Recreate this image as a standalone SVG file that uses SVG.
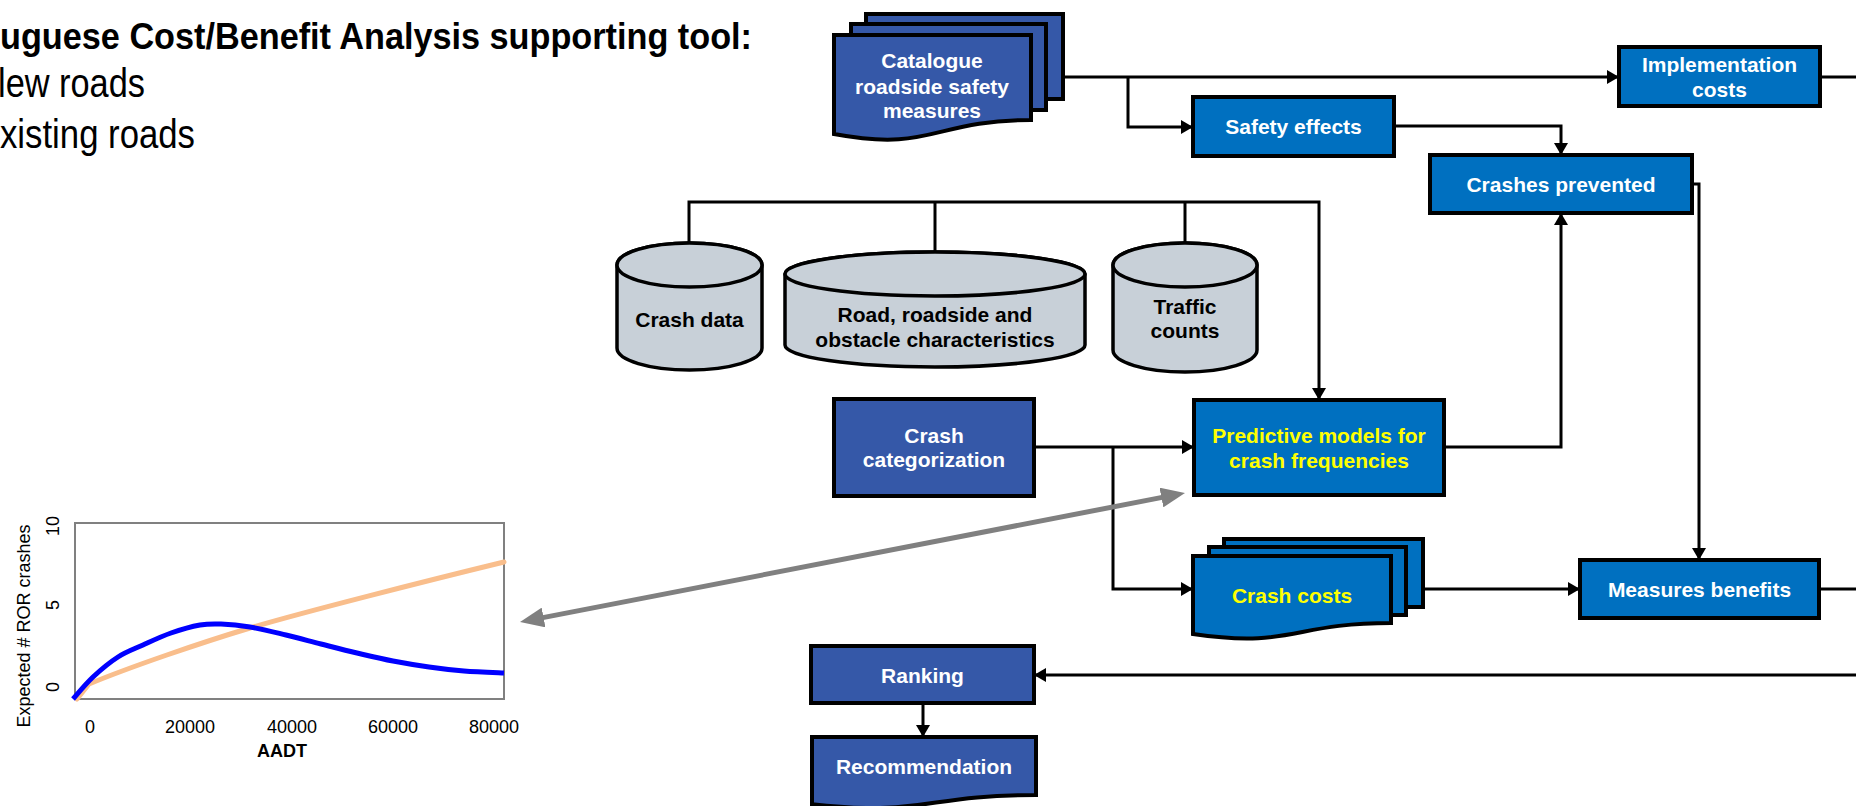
<svg xmlns="http://www.w3.org/2000/svg" width="1856" height="806" viewBox="0 0 1856 806">
<style>
.box{fill:#0070C0;stroke:#000;stroke-width:4}
.dbox{fill:#3558A8;stroke:#000;stroke-width:4}
.cyl{fill:#C8D0D8;stroke:#000;stroke-width:3.5}
.lbl{font-family:"Liberation Sans",Arial,sans-serif;font-weight:bold;font-size:21px;text-anchor:middle;fill:#fff}
.ylw{fill:#FFFF00}
.dk{fill:#000}
.conn{fill:none;stroke:#000;stroke-width:3}
.head{font-family:"Liberation Sans",Arial,sans-serif;fill:#000}
.tick{font-family:"Liberation Sans",Arial,sans-serif;font-size:18px;fill:#000;text-anchor:middle}
</style>
<defs>
<marker id="arr" markerUnits="userSpaceOnUse" markerWidth="12" markerHeight="14" refX="12" refY="7" orient="auto" viewBox="0 0 12 14">
<path d="M0,0 L12,7 L0,14 z" fill="#000"/>
</marker>
<marker id="garr" markerUnits="userSpaceOnUse" markerWidth="24" markerHeight="20" refX="6" refY="10" orient="auto-start-reverse" viewBox="0 0 24 20">
<path d="M0,0 L24,10 L0,20 z" fill="#808080"/>
</marker>
</defs>
<rect width="1856" height="806" fill="#fff"/>

<g id="heading" class="head">
<text x="0" y="49" font-size="37" font-weight="bold" textLength="752" lengthAdjust="spacingAndGlyphs">uguese Cost/Benefit Analysis supporting tool:</text>
<text x="-2" y="97" font-size="40" textLength="147" lengthAdjust="spacingAndGlyphs">lew roads</text>
<text x="0" y="148" font-size="40" textLength="195" lengthAdjust="spacingAndGlyphs">xisting roads</text>
</g>

<g id="connectors">
<path class="conn" d="M1063,77 H1619" marker-end="url(#arr)"/>
<path class="conn" d="M1128,77 V127 H1193" marker-end="url(#arr)"/>
<path class="conn" d="M1820,77 H1856"/>
<path class="conn" d="M1394,126 H1561 V155" marker-end="url(#arr)"/>
<path class="conn" d="M689,243 V202 H1319 V400" marker-end="url(#arr)"/>
<path class="conn" d="M935,252 V202"/>
<path class="conn" d="M1185,243 V202"/>
<path class="conn" d="M1034,447 H1194" marker-end="url(#arr)"/>
<path class="conn" d="M1113,447 V589 H1193" marker-end="url(#arr)"/>
<path class="conn" d="M1444,447 H1561 V213" marker-end="url(#arr)"/>
<path class="conn" d="M1692,184 H1699 V560" marker-end="url(#arr)"/>
<path class="conn" d="M1423,589 H1580" marker-end="url(#arr)"/>
<path class="conn" d="M1819,589 H1856"/>
<path class="conn" d="M1856,675 H1034" marker-end="url(#arr)"/>
<path class="conn" d="M923,703 V737" marker-end="url(#arr)"/>
<path d="M1167.3,496.4 L537.7,618.6" fill="none" stroke="#808080" stroke-width="5" marker-start="url(#garr)" marker-end="url(#garr)"/>
</g>

<g id="catalogue">
<rect class="dbox" x="866" y="14" width="197" height="85"/>
<rect class="dbox" x="851" y="24" width="195" height="86"/>
<path class="dbox" d="M834,35 H1031 V120 C932.5,120 932.5,152.4 834,134 Z"/>
<text class="lbl" x="932" y="68">Catalogue</text>
<text class="lbl" x="932" y="94">roadside safety</text>
<text class="lbl" x="932" y="118">measures</text>
</g>

<g id="implementation">
<rect class="box" x="1619" y="47" width="201" height="59"/>
<text class="lbl" x="1719.5" y="72">Implementation</text>
<text class="lbl" x="1719.5" y="97">costs</text>
</g>

<g id="safety-effects">
<rect class="box" x="1193" y="97" width="201" height="59"/>
<text class="lbl" x="1293.5" y="134">Safety effects</text>
</g>

<g id="crashes-prevented">
<rect class="box" x="1430" y="155" width="262" height="58"/>
<text class="lbl" x="1561" y="192">Crashes prevented</text>
</g>

<g id="crash-data">
<path class="cyl" d="M617,265 V348 A72.5,22 0 0 0 762,348 V265 A72.5,22 0 0 0 617,265 Z"/>
<ellipse class="cyl" cx="689.5" cy="265" rx="72.5" ry="22"/>
<text class="lbl dk" x="689.5" y="327">Crash data</text>
</g>

<g id="road-characteristics">
<path class="cyl" d="M785,274 V345 A150,22 0 0 0 1085,345 V274 A150,22 0 0 0 785,274 Z"/>
<ellipse class="cyl" cx="935" cy="274" rx="150" ry="22"/>
<text class="lbl dk" x="935" y="322">Road, roadside and</text>
<text class="lbl dk" x="935" y="347">obstacle characteristics</text>
</g>

<g id="traffic-counts">
<path class="cyl" d="M1113,265 V350 A72,22 0 0 0 1257,350 V265 A72,22 0 0 0 1113,265 Z"/>
<ellipse class="cyl" cx="1185" cy="265" rx="72" ry="22"/>
<text class="lbl dk" x="1185" y="314">Traffic</text>
<text class="lbl dk" x="1185" y="338">counts</text>
</g>

<g id="crash-categorization">
<rect class="dbox" x="834" y="399" width="200" height="97"/>
<text class="lbl" x="934" y="443">Crash</text>
<text class="lbl" x="934" y="467">categorization</text>
</g>

<g id="predictive-models">
<rect class="box" x="1194" y="400" width="250" height="95"/>
<text class="lbl ylw" x="1319" y="443">Predictive models for</text>
<text class="lbl ylw" x="1319" y="468">crash frequencies</text>
</g>

<g id="crash-costs">
<rect class="box" x="1224" y="539" width="199" height="68"/>
<rect class="box" x="1209" y="547" width="197" height="68"/>
<path class="box" d="M1193,556 H1391 V623 C1292,623 1292,648.5 1193,634 Z"/>
<text class="lbl ylw" x="1292" y="603">Crash costs</text>
</g>

<g id="measures-benefits">
<rect class="box" x="1580" y="560" width="239" height="58"/>
<text class="lbl" x="1699.5" y="597">Measures benefits</text>
</g>

<g id="ranking">
<rect class="dbox" x="811" y="646" width="223" height="57"/>
<text class="lbl" x="922.5" y="683">Ranking</text>
</g>

<g id="recommendation">
<path class="dbox" d="M812,737 H1036 V795 C924,795 924,816.7 812,804.2 Z"/>
<text class="lbl" x="924" y="774">Recommendation</text>
</g>

<g id="chart">
<rect x="75" y="523" width="429" height="176" fill="#fff" stroke="#808080" stroke-width="2"/>
<path fill="none" stroke="#F9BE8C" stroke-width="5" stroke-linejoin="round" stroke-linecap="round" d="M77,699 L89,684 C130,667 200,643 250,628 S430,580 504,562"/>
<path fill="none" stroke="#0000FF" stroke-width="5" stroke-linejoin="round" d="M73,699 C76.3,695.3 85.5,684 93,677 C100.5,670 109.7,662.3 118,657 C126.3,651.7 134.2,649 143,645 C151.8,641 161.5,636.3 171,633 C180.5,629.7 191.7,626.5 200,625 C208.3,623.5 212.7,623.7 221,624 C229.3,624.3 239.2,625.2 250,627 C260.8,628.8 274.2,632.2 286,635 C297.8,637.8 309.2,641 321,644 C332.8,647 345,650.2 357,653 C369,655.8 381,658.7 393,661 C405,663.3 417.2,665.3 429,667 C440.8,668.7 451.5,670 464,671 C476.5,672 497.3,672.7 504,673"/>
<text class="tick" transform="translate(59,526) rotate(-90)">10</text>
<text class="tick" transform="translate(59,605) rotate(-90)">5</text>
<text class="tick" transform="translate(59,687) rotate(-90)">0</text>
<text class="tick" transform="translate(30,626) rotate(-90)">Expected # ROR crashes</text>
<text class="tick" x="90" y="733">0</text>
<text class="tick" x="190" y="733">20000</text>
<text class="tick" x="292" y="733">40000</text>
<text class="tick" x="393" y="733">60000</text>
<text class="tick" x="494" y="733">80000</text>
<text class="tick" x="282" y="757" font-weight="bold">AADT</text>
</g>
</svg>
